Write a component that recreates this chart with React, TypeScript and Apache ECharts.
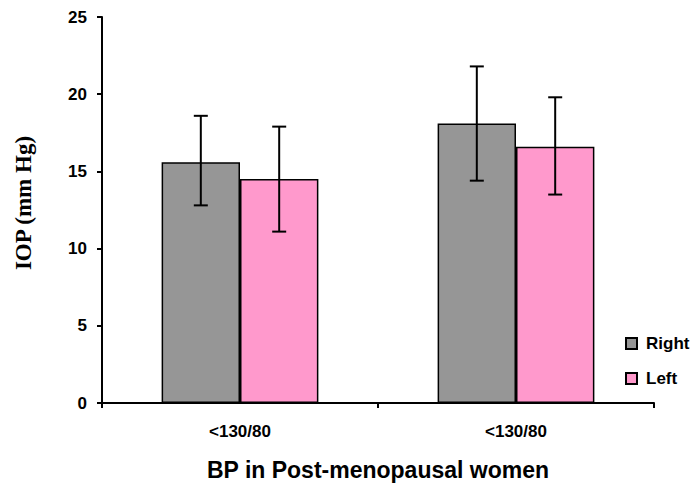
import React, { useEffect, useRef } from "react";
import * as echarts from "echarts";

const categories = ["<130/80", "<130/80"];
const rightMean = [15.6, 18.1];
const rightLow = [12.8, 14.4];
const rightHigh = [18.6, 21.8];
const leftMean = [14.5, 16.6];
const leftLow = [11.1, 13.5];
const leftHigh = [17.9, 19.8];
const yTicks = { min: 0, max: 25, interval: 5 };

const BAR_FRAC = 0.284;

function errorSeries(low: number[], high: number[], side: number) {
  return {
    type: "custom",
    silent: true,
    z: 5,
    data: low.map((l, i) => [i, l, high[i]]),
    renderItem: (params: any, api: any) => {
      const xi = api.value(0);
      const lo = api.coord([xi, api.value(1)]);
      const hi = api.coord([xi, api.value(2)]);
      const band = api.size([1, 0])[0];
      const x = lo[0] + side * band * BAR_FRAC * 0.5;
      const cap = 7;
      const style = { stroke: "#000", lineWidth: 2 };
      return {
        type: "group",
        children: [
          { type: "line", shape: { x1: x, y1: lo[1], x2: x, y2: hi[1] }, style },
          { type: "line", shape: { x1: x - cap, y1: lo[1], x2: x + cap, y2: lo[1] }, style },
          { type: "line", shape: { x1: x - cap, y1: hi[1], x2: x + cap, y2: hi[1] }, style },
        ],
      };
    },
  };
}

export default function App() {
  const ref = useRef<HTMLDivElement>(null);
  useEffect(() => {
    const chart = echarts.init(ref.current!, undefined, { renderer: "svg" });
    const font = "Liberation Sans, Arial, sans-serif";
    chart.setOption({
      animation: false,
      backgroundColor: "#fff",
      grid: { left: 102, right: 39, top: 17, bottom: 84 },
      legend: {
        orient: "vertical",
        left: 620,
        top: 330,
        itemWidth: 11,
        itemHeight: 11,
        itemGap: 18,
        icon: "rect",
        data: ["Right", "Left"],
        textStyle: { fontFamily: font, fontWeight: "bold", fontSize: 17, color: "#000", padding: [0, 0, 0, 4] },
      },
      xAxis: {
        type: "category",
        data: categories,
        name: "BP in Post-menopausal women",
        nameLocation: "middle",
        nameGap: 55,
        nameTextStyle: { fontFamily: font, fontWeight: "bold", fontSize: 23, color: "#000" },
        axisLine: { lineStyle: { color: "#000", width: 2 } },
        axisTick: { show: true, length: 5, lineStyle: { color: "#000", width: 2 } },
        axisLabel: { margin: 20, fontFamily: font, fontWeight: "bold", fontSize: 17, color: "#000" },
      },
      yAxis: {
        type: "value",
        min: yTicks.min,
        max: yTicks.max,
        interval: yTicks.interval,
        name: "IOP (mm Hg)",
        nameLocation: "middle",
        nameRotate: 90,
        nameGap: 67,
        nameTextStyle: {
          fontFamily: "Liberation Serif, Times New Roman, serif",
          fontWeight: "bold",
          fontSize: 23,
          color: "#000",
          padding: [0, 0, 0, 14],
        },
        splitLine: { show: false },
        axisLine: { show: true, lineStyle: { color: "#000", width: 2 } },
        axisTick: { show: true, length: 5, lineStyle: { color: "#000", width: 2 } },
        axisLabel: { margin: 15, fontFamily: font, fontWeight: "bold", fontSize: 17, color: "#000" },
      },
      series: [
        {
          name: "Right",
          type: "bar",
          data: rightMean,
          barWidth: (BAR_FRAC * 100).toFixed(1) + "%",
          barGap: "0%",
          itemStyle: { color: "#969696", borderColor: "#000", borderWidth: 1.5 },
        },
        {
          name: "Left",
          type: "bar",
          data: leftMean,
          barWidth: (BAR_FRAC * 100).toFixed(1) + "%",
          barGap: "0%",
          itemStyle: { color: "#FF99CC", borderColor: "#000", borderWidth: 1.5 },
        },
        errorSeries(rightLow, rightHigh, -1),
        errorSeries(leftLow, leftHigh, 1),
      ],
    });
    return () => chart.dispose();
  }, []);
  return <div ref={ref} style={{ width: 693, height: 487, position: "absolute", left: 0, top: 0 }} />;
}
